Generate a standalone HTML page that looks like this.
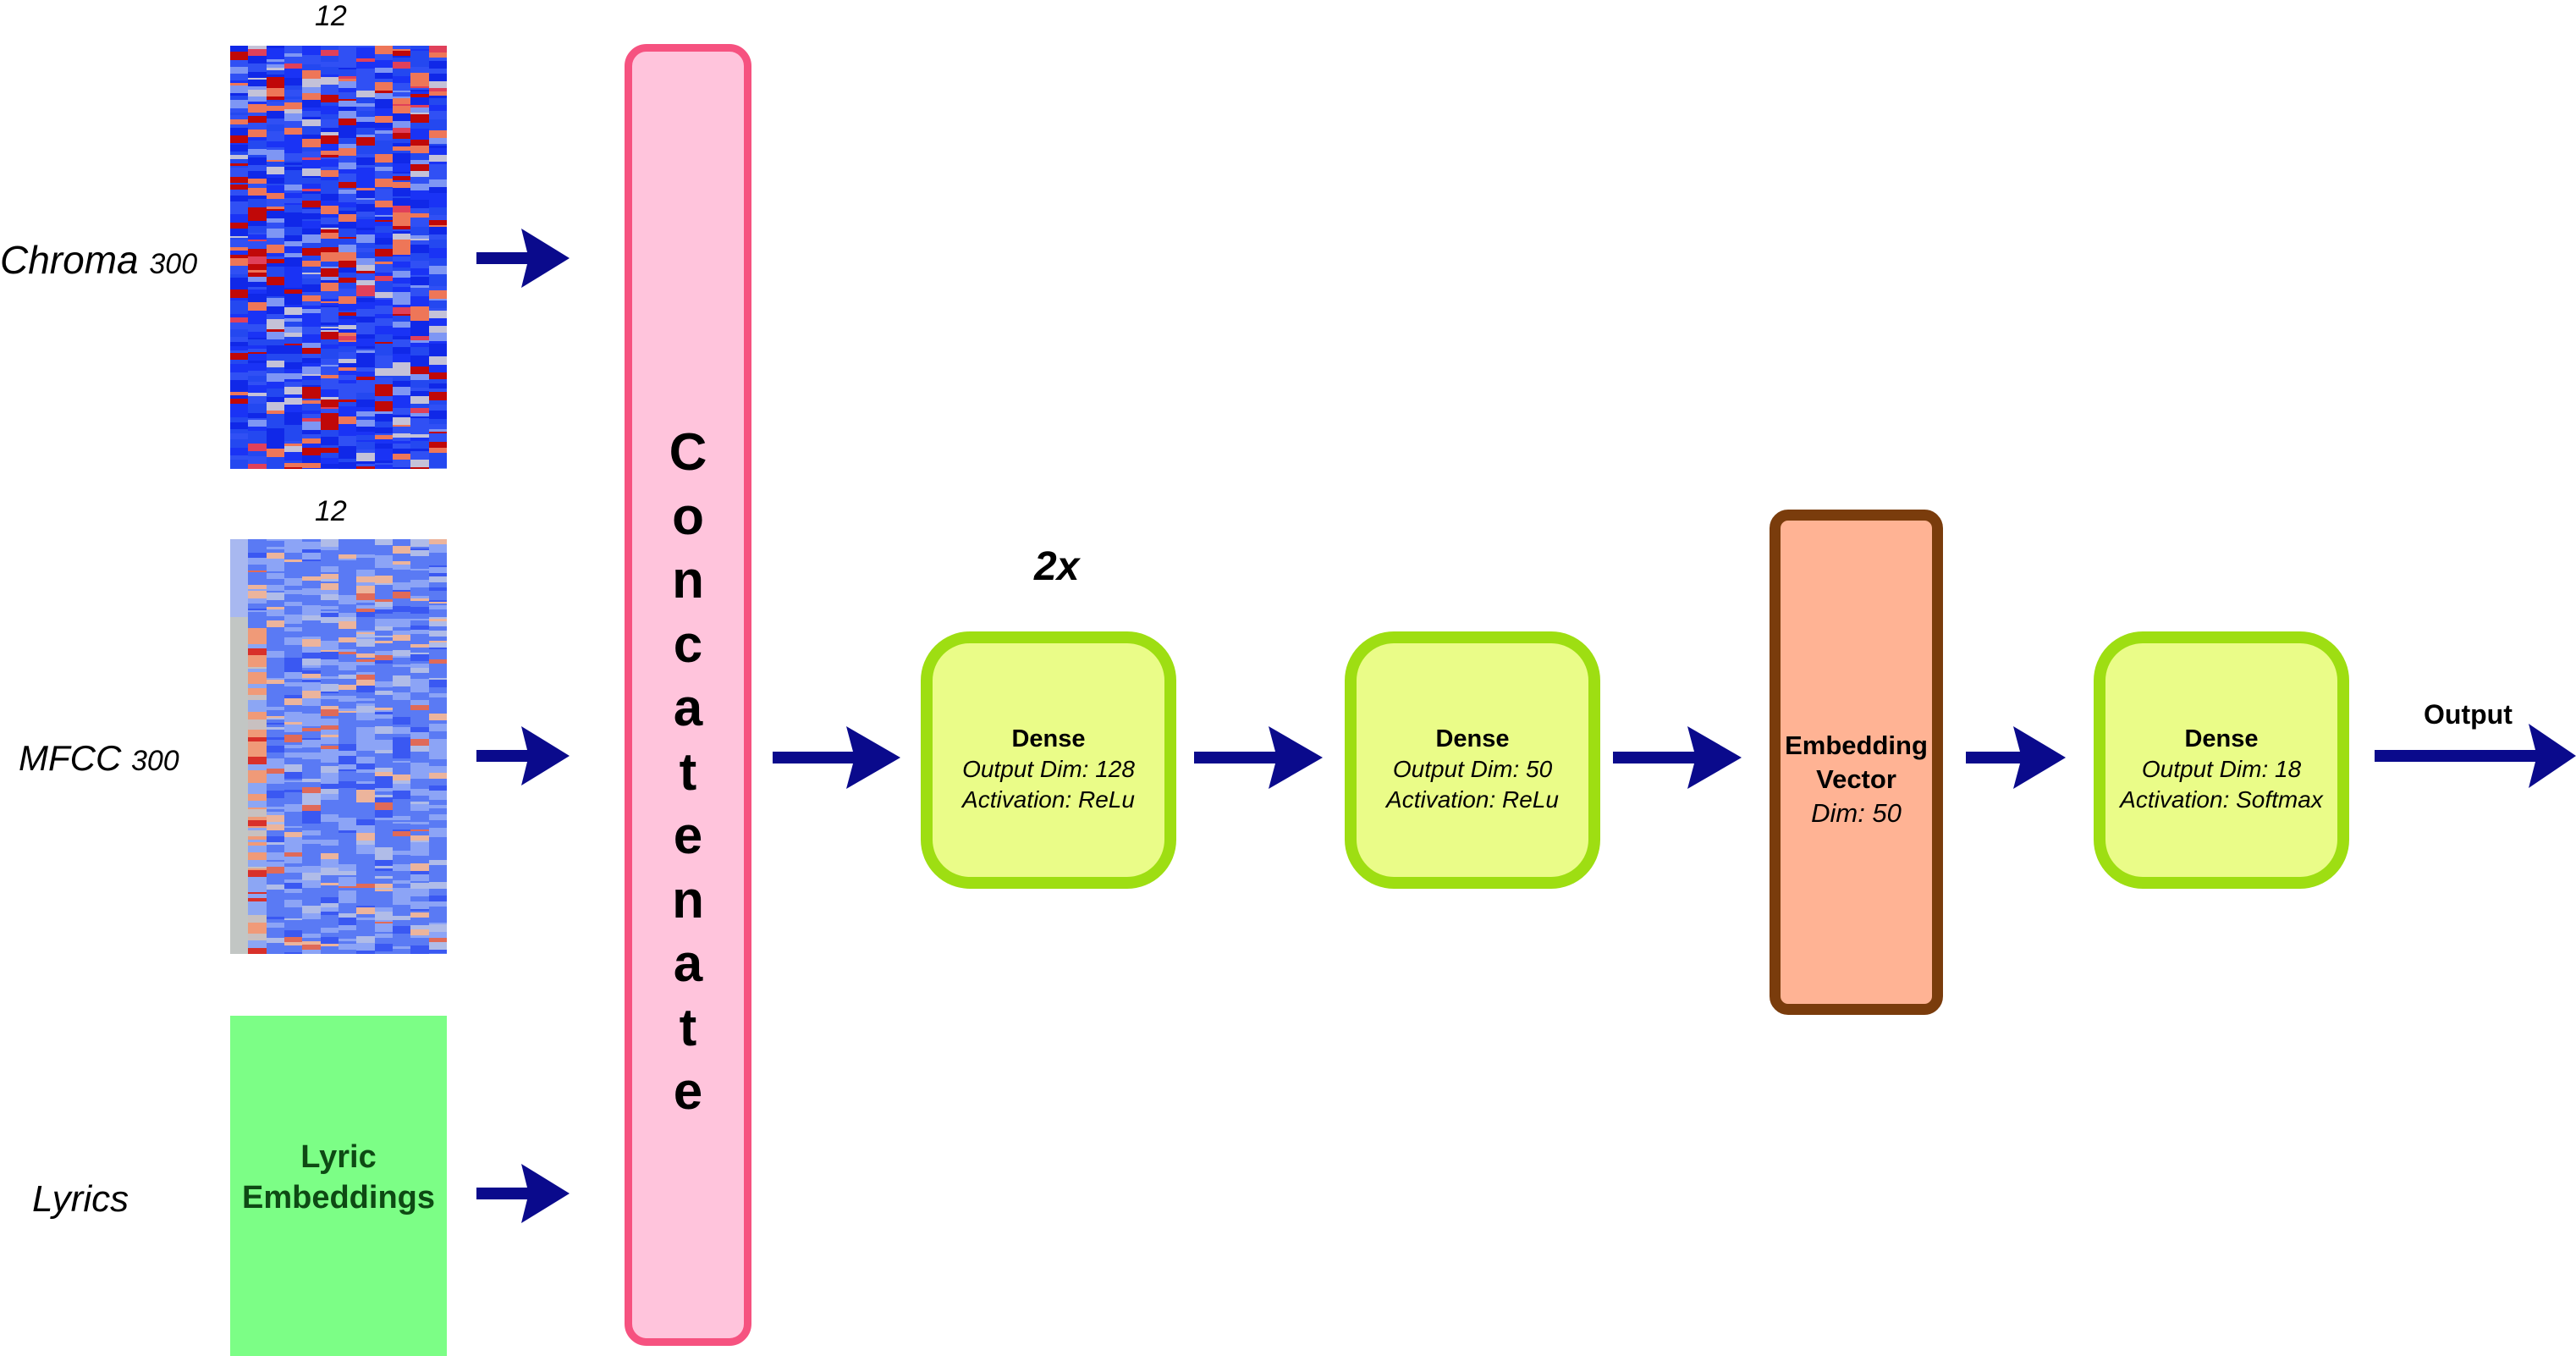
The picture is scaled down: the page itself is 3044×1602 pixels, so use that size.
<!DOCTYPE html>
<html><head><meta charset="utf-8">
<style>
html,body{margin:0;padding:0;background:#fff;}
body{width:3044px;height:1602px;position:relative;overflow:hidden;font-family:"Liberation Sans",sans-serif;}
.abs{position:absolute;}
.lbl{position:absolute;font-style:italic;color:#000;white-space:nowrap;}
.box{position:absolute;box-sizing:border-box;text-align:center;display:flex;flex-direction:column;justify-content:center;align-items:center;}
.dense{background:#eafc88;border:14px solid #9ede12;border-radius:58px;width:302px;height:304px;top:746px;font-size:28px;line-height:36px;padding-top:22px;}
.dense b{font-size:29px;}
.dense i{display:block;}
</style></head><body>

<div class="lbl" style="left:372px;top:0px;font-size:34px;">12</div>
<div class="lbl" style="left:372px;top:585px;font-size:34px;">12</div>
<div class="lbl" style="left:0px;top:280px;font-size:46px;">Chroma <span style="font-size:34px;">300</span></div>
<div class="lbl" style="left:22px;top:872px;font-size:42px;">MFCC <span style="font-size:34px;">300</span></div>
<div class="lbl" style="left:38px;top:1392px;font-size:44px;">Lyrics</div>

<svg class="abs" id="chroma" style="left:272px;top:54px" width="256" height="500"><rect width="256" height="500" fill="#2040f0"/></svg>
<svg class="abs" id="mfcc" style="left:272px;top:637px" width="256" height="490"><rect width="256" height="490" fill="#6e8cf2"/></svg>

<div class="box" style="left:272px;top:1200px;width:256px;height:402px;background:#7cfe86;color:#0e4a14;font-weight:bold;font-size:38px;line-height:48px;padding-bottom:20px;">Lyric<br>Embeddings</div>

<div class="box" style="left:738px;top:52px;width:150px;height:1538px;background:#ffc4dc;border:9px solid #f65280;border-radius:26px;justify-content:flex-start;padding-top:436px;font-size:62px;font-weight:bold;line-height:75.5px;">
C<br>o<br>n<br>c<br>a<br>t<br>e<br>n<br>a<br>t<br>e</div>

<div class="lbl" style="left:1222px;top:642px;font-size:48px;font-weight:bold;">2x</div>

<div class="box dense" style="left:1088px;"><b>Dense</b><i>Output Dim: 128</i><i>Activation: ReLu</i></div>
<div class="box dense" style="left:1589px;"><b>Dense</b><i>Output Dim: 50</i><i>Activation: ReLu</i></div>
<div class="box dense" style="left:2474px;"><b>Dense</b><i>Output Dim: 18</i><i>Activation: Softmax</i></div>

<div class="box" style="left:2091px;top:602px;width:205px;height:597px;background:#ffb394;border:13px solid #7a3c0c;border-radius:22px;font-size:31px;line-height:40px;padding-top:40px;"><b>Embedding</b><b>Vector</b><i>Dim: 50</i></div>

<div class="lbl" style="left:2864px;top:826px;font-size:32px;font-weight:bold;font-style:normal;">Output</div>

<svg class="abs" style="left:0;top:0" width="3044" height="1602">
<g fill="#0a0a8c">
<path d="M563,298 h60 l-7,-28 l57,35 l-57,35 l7,-28 h-60 z"/>
<path d="M563,886 h60 l-7,-28 l57,35 l-57,35 l7,-28 h-60 z"/>
<path d="M563,1403 h60 l-7,-28 l57,35 l-57,35 l7,-28 h-60 z"/>
<path d="M913,888 h95 l-8,-30 l64,37 l-64,37 l8,-30 h-95 z"/>
<path d="M1411,888 h96 l-8,-30 l64,37 l-64,37 l8,-30 h-96 z"/>
<path d="M1906,888 h96 l-8,-30 l64,37 l-64,37 l8,-30 h-96 z"/>
<path d="M2323,888 h64 l-8,-30 l62,37 l-62,37 l8,-30 h-64 z"/>
<path d="M2806,886 h190 l-8,-31 l56,38 l-56,38 l8,-31 h-190 z"/>
</g>
</svg>

<script>
(function(){
var s=12345;function r(){s=(s*1103515245+12345)%2147483648;return s/2147483648;}
var NS="http://www.w3.org/2000/svg";
function rect(svg,x,y,w,h,c){var e=document.createElementNS(NS,"rect");e.setAttribute("x",x);e.setAttribute("y",y);e.setAttribute("width",w);e.setAttribute("height",h);e.setAttribute("fill",c);svg.appendChild(e);}
var ch=document.getElementById("chroma");var cw=256/12;
for(var c=0;c<12;c++){var y=0;while(y<500){var h=2+Math.floor(r()*9);var v=r();var col;
 if(v<0.66)col=["#1a33f5","#2448f0","#1028e8","#3050f4"][Math.floor(r()*4)];
 else if(v<0.75)col="#c00808";else if(v<0.82)col="#ee7658";else if(v<0.91)col="#7e96f4";else if(v<0.96)col="#c4c2d8";else col="#e0405a";
 rect(ch,Math.round(c*cw),y,Math.ceil(cw)+1,h,col);y+=h;}}
var m=document.getElementById("mfcc");
for(var c=0;c<12;c++){var y=0;while(y<490){var h=2+Math.floor(r()*8);var v=r();var col;
 if(c==0){col=y<90?"#a8b8f0":"#c2c6c4";}
 else if(c==1&&y>100){col=v<0.45?"#f09a78":(v<0.52?"#d8302a":(v<0.8?"#8ca6f4":"#c8c0c0"));}
 else{ if(v<0.42)col="#5a7af4";else if(v<0.7)col="#8ca4f6";else if(v<0.82)col="#3a58f2";else if(v<0.9)col="#b0bce8";else if(v<0.96)col="#ecb49c";else col="#e06a58";}
 rect(m,Math.round(c*cw),y,Math.ceil(cw)+1,h,col);y+=h;}}
})();
</script>
</body></html>
